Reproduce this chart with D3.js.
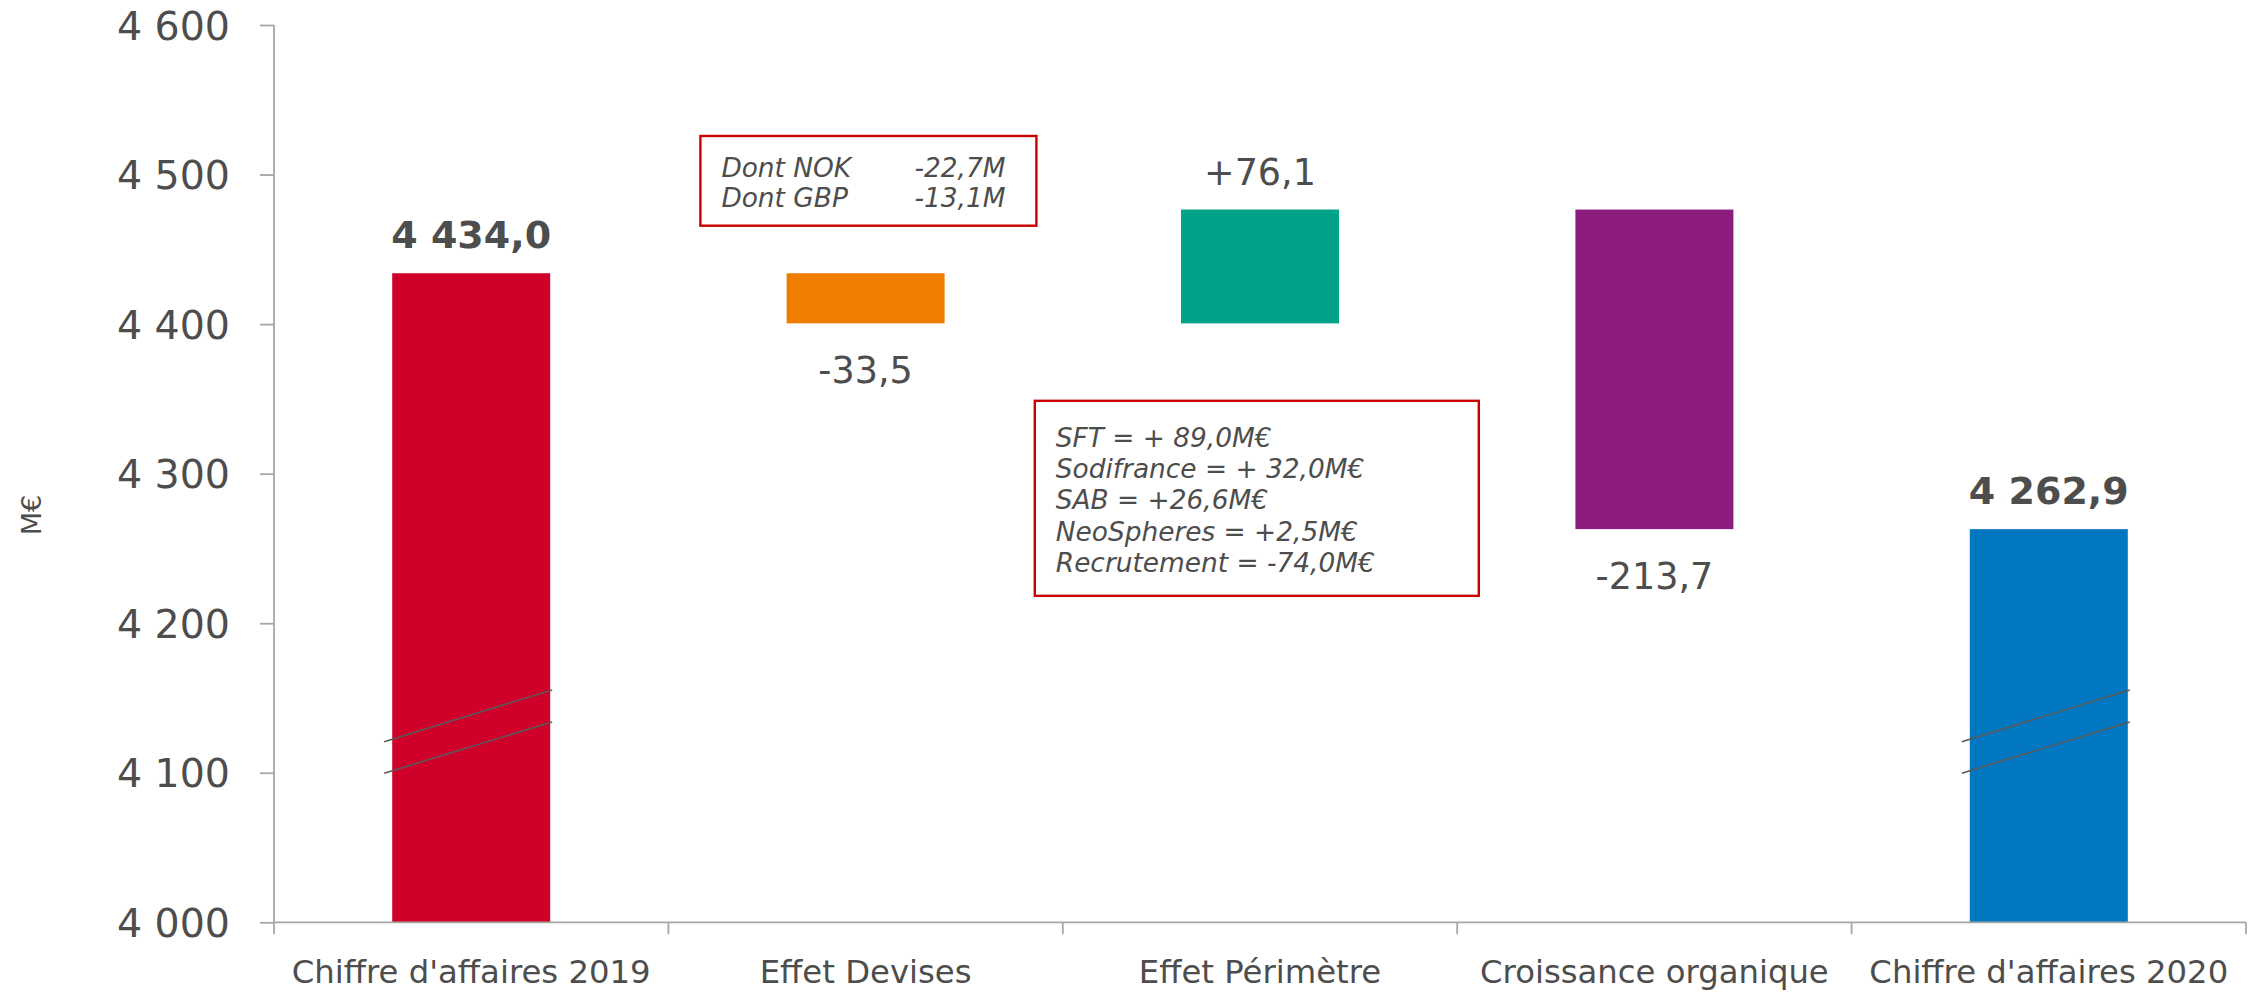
<!DOCTYPE html>
<html>
<head>
<meta charset="utf-8">
<script src="https://cdn.jsdelivr.net/npm/d3@7"></script>
<style>
  html, body { margin: 0; padding: 0; background: #ffffff; }
  svg { display: block; }
  text { font-family: "DejaVu Sans", Verdana, sans-serif; }
</style>
</head>
<body>
<svg id="chart" width="2260" height="992"></svg>
<script>
// ---------------- DATA ----------------
const categories = ["Chiffre d'affaires 2019", "Effet Devises", "Effet Périmètre", "Croissance organique", "Chiffre d'affaires 2020"];
const values = [4434.0, -33.5, 76.1, -213.7, 4262.9];
const kinds = ["total", "delta", "delta", "delta", "total"];
const valueLabels = ["4 434,0", "-33,5", "+76,1", "-213,7", "4 262,9"];
const yTicks = [4000, 4100, 4200, 4300, 4400, 4500, 4600];
const yTickLabels = ["4 000", "4 100", "4 200", "4 300", "4 400", "4 500", "4 600"];
const yAxisTitle = "M€";
const boxDevisesRows = [["Dont NOK", "-22,7M"], ["Dont GBP", "-13,1M"]];
const boxPerimetreRows = ["SFT = + 89,0M€", "Sodifrance = + 32,0M€", "SAB = +26,6M€", "NeoSpheres = +2,5M€", "Recrutement = -74,0M€"];
// axis-break marks (value at left end, value at right end) drawn on the total bars
const breakMarks = [[4099.7, 4134.0], [4120.8, 4155.4]];

// ---------------- STYLE ----------------
const barColors = ["#CF0029", "#EF7D00", "#00A388", "#8C1D7E", "#0077C0"];
const textColor = "#4d4d4d";
const axisColor = "#a6a6a6";
const boxColor = "#cc0000";

// ---------------- LAYOUT ----------------
const svg = d3.select("#chart");
const y = d3.scaleLinear().domain([4000, 4600]).range([922.3, 25]);
const x = d3.scaleBand().domain(categories).range([274, 2246]).paddingInner(0).paddingOuter(0);
const bw = x.bandwidth();
const barW = bw * 0.4006;
const barOff = (bw - barW) / 2;

// waterfall computation
let running = 0;
const bars = categories.map((c, i) => {
  let lo, hi;
  if (kinds[i] === "total") {
    lo = y.domain()[0]; hi = values[i]; running = values[i];
  } else {
    const start = running, end = running + values[i];
    lo = Math.min(start, end); hi = Math.max(start, end); running = end;
  }
  return { cat: c, lo, hi, v: values[i], kind: kinds[i], label: valueLabels[i], color: barColors[i] };
});

// bars
svg.append("g").selectAll("rect").data(bars).join("rect")
  .attr("x", d => x(d.cat) + barOff)
  .attr("width", barW)
  .attr("y", d => y(d.hi))
  .attr("height", d => y(d.lo) - y(d.hi))
  .attr("fill", d => d.color);

// break marks on total bars
const totals = bars.filter(d => d.kind === "total");
const gBreak = svg.append("g");
totals.forEach(d => {
  breakMarks.forEach(m => {
    gBreak.append("line")
      .attr("x1", x(d.cat) + barOff - 8)
      .attr("x2", x(d.cat) + barOff + barW + 2)
      .attr("y1", y(m[0]))
      .attr("y2", y(m[1]))
      .attr("stroke", "#595959")
      .attr("stroke-width", 1.6);
  });
});

// y axis
const yAxis = d3.axisLeft(y)
  .tickValues(yTicks)
  .tickFormat((d, i) => yTickLabels[i])
  .tickSize(14)
  .tickPadding(30);
const gy = svg.append("g").attr("transform", "translate(274,0)").call(yAxis);
gy.select(".domain").attr("stroke", axisColor).attr("stroke-width", 1.8).attr("d", `M0,${y(4600)}V${y(4000)}`);
gy.selectAll(".tick line").attr("stroke", axisColor).attr("stroke-width", 1.8);
gy.selectAll(".tick text")
  .attr("fill", textColor)
  .style("font-family", '"DejaVu Sans", Verdana, sans-serif')
  .style("font-size", "39.5px")
  .attr("dy", "0.36em");

// y title
svg.append("text")
  .attr("transform", `translate(41,515) rotate(-90)`)
  .attr("text-anchor", "middle")
  .attr("fill", textColor)
  .style("font-size", "27px")
  .text(yAxisTitle);

// x axis (line + category boundary ticks)
const gx = svg.append("g");
gx.append("line")
  .attr("x1", x.range()[0]).attr("x2", x.range()[1])
  .attr("y1", y(4000)).attr("y2", y(4000))
  .attr("stroke", axisColor).attr("stroke-width", 1.8);
const bounds = categories.map(c => x(c)).concat([x.range()[1]]);
gx.selectAll("line.b").data(bounds).join("line")
  .attr("class", "b")
  .attr("x1", d => d).attr("x2", d => d)
  .attr("y1", y(4000)).attr("y2", y(4000) + 12)
  .attr("stroke", axisColor).attr("stroke-width", 1.8);
gx.selectAll("text").data(categories).join("text")
  .attr("x", d => x(d) + bw / 2)
  .attr("y", 983)
  .attr("text-anchor", "middle")
  .attr("fill", textColor)
  .style("font-size", "32.3px")
  .text(d => d);

// value labels
svg.append("g").selectAll("text").data(bars).join("text")
  .attr("x", d => x(d.cat) + bw / 2)
  .attr("y", d => {
    if (d.kind === "total") return y(d.hi) - 25;
    if (d.v >= 0) return y(d.hi) - 25;
    return y(d.lo) + 60;
  })
  .attr("text-anchor", "middle")
  .attr("fill", textColor)
  .style("font-size", d => d.kind === "total" ? "38px" : "36.5px")
  .style("font-weight", d => d.kind === "total" ? "bold" : "normal")
  .text(d => d.label);

// annotation box: Effet Devises
const b1x = x(categories[1]) + 32, b1y = y(4525.8);
const g1 = svg.append("g");
g1.append("rect")
  .attr("x", b1x).attr("y", b1y)
  .attr("width", 336).attr("height", y(4465.8) - y(4525.8))
  .attr("fill", "#ffffff").attr("stroke", boxColor).attr("stroke-width", 2.4);
boxDevisesRows.forEach((r, i) => {
  g1.append("text").attr("x", b1x + 21).attr("y", b1y + 41 + i * 30)
    .attr("fill", textColor).style("font-size", "26.4px").style("font-style", "italic").text(r[0]);
  g1.append("text").attr("x", b1x + 214).attr("y", b1y + 41 + i * 30)
    .attr("fill", textColor).style("font-size", "26.4px").style("font-style", "italic").text(r[1]);
});

// annotation box: Effet Périmètre
const b2x = x(categories[2]) - 28, b2y = y(4348.7);
const g2 = svg.append("g");
g2.append("rect")
  .attr("x", b2x).attr("y", b2y)
  .attr("width", 444).attr("height", y(4218.3) - y(4348.7))
  .attr("fill", "#ffffff").attr("stroke", boxColor).attr("stroke-width", 2.4);
boxPerimetreRows.forEach((t, i) => {
  g2.append("text").attr("x", b2x + 21).attr("y", b2y + 46 + i * 31.3)
    .attr("fill", textColor).style("font-size", "26.4px").style("font-style", "italic").text(t);
});
</script>
</body>
</html>
